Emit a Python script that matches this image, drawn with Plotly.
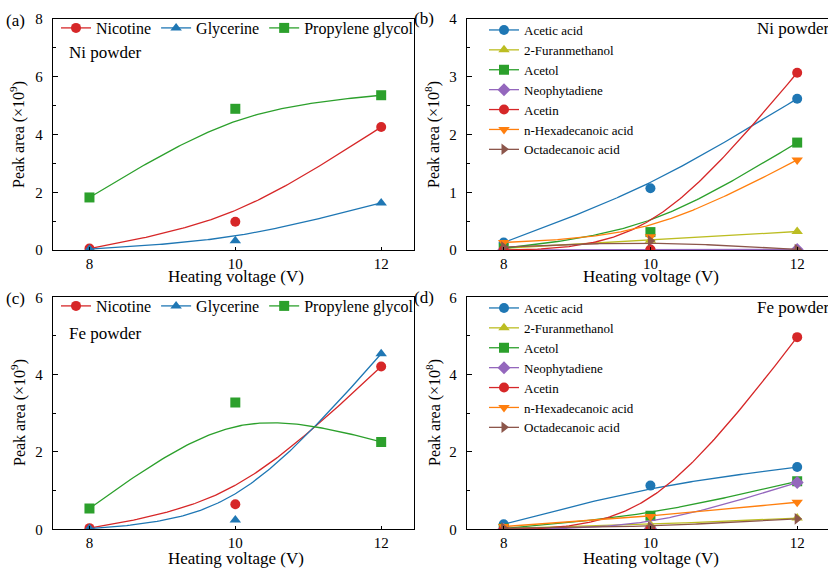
import numpy as np
import plotly.graph_objects as go

voltage = [8, 10, 12]

# (a) Ni powder, x10^9
ni_main = {
    "Nicotine": [0.05, 0.98, 4.26],
    "Glycerine": [0.03, 0.32, 1.63],
    "Propylene glycol": [1.82, 4.89, 5.36],
}
# (c) Fe powder, x10^9
fe_main = {
    "Nicotine": [0.03, 0.65, 4.21],
    "Glycerine": [0.02, 0.24, 4.54],
    "Propylene glycol": [0.54, 3.28, 2.26],
}
# (b) Ni powder, x10^8
ni_minor = {
    "Acetic acid": [0.13, 1.07, 2.62],
    "2-Furanmethanol": [0.03, 0.17, 0.32],
    "Acetol": [0.03, 0.31, 1.86],
    "Neophytadiene": [0.0, 0.0, 0.01],
    "Acetin": [0.0, 0.01, 3.07],
    "n-Hexadecanoic acid": [0.13, 0.23, 1.56],
    "Octadecanoic acid": [0.05, 0.16, 0.01],
}
# (d) Fe powder, x10^8
fe_minor = {
    "Acetic acid": [0.13, 1.13, 1.61],
    "2-Furanmethanol": [0.02, 0.12, 0.29],
    "Acetol": [0.02, 0.35, 1.24],
    "Neophytadiene": [0.0, 0.02, 1.21],
    "Acetin": [0.0, 0.0, 4.97],
    "n-Hexadecanoic acid": [0.07, 0.33, 0.70],
    "Octadecanoic acid": [0.03, 0.06, 0.27],
}

main_style = {
    "Nicotine": ("#d62728", "circle"),
    "Glycerine": ("#1f77b4", "triangle-up"),
    "Propylene glycol": ("#2ca02c", "square"),
}
minor_style = {
    "Acetic acid": ("#1f77b4", "circle"),
    "2-Furanmethanol": ("#bcbd22", "triangle-up"),
    "Acetol": ("#2ca02c", "square"),
    "Neophytadiene": ("#9467bd", "diamond"),
    "Acetin": ("#d62728", "circle"),
    "n-Hexadecanoic acid": ("#ff7f0e", "triangle-down"),
    "Octadecanoic acid": ("#8c564b", "triangle-right"),
}

W, H = 828, 569
FONT = "Liberation Serif"


def px(x):
    return x / W


def py(y):
    return 1 - y / H


def smooth(xs, ys, w=2.0, n=120):
    t = np.linspace(0, 1, n)
    b0 = (1 - t) ** 2
    b1 = 2 * w * t * (1 - t)
    b2 = t ** 2
    d = b0 + b1 + b2
    x = (b0 * xs[0] + b1 * xs[1] + b2 * xs[2]) / d
    y = (b0 * ys[0] + b1 * ys[1] + b2 * ys[2]) / d
    return x, y


fig = go.Figure()

panels = [
    ("x", "y", ni_main, main_style, "legend"),
    ("x2", "y2", ni_minor, minor_style, "legend2"),
    ("x3", "y3", fe_main, main_style, "legend3"),
    ("x4", "y4", fe_minor, minor_style, "legend4"),
]

for xa, ya, data, style, leg in panels:
    for name, vals in data.items():
        color, sym = style[name]
        cx, cy = smooth(voltage, vals)
        fig.add_trace(go.Scatter(
            x=cx, y=cy, mode="lines", line=dict(color=color, width=1.3),
            xaxis=xa, yaxis=ya, showlegend=False, hoverinfo="skip"))
        fig.add_trace(go.Scatter(
            x=voltage, y=vals, mode="markers", name=name,
            marker=dict(color=color, symbol=sym, size=10),
            xaxis=xa, yaxis=ya, showlegend=False))
        # legend entry with line + marker
        fig.add_trace(go.Scatter(
            x=[None], y=[None], mode="lines+markers", name=name,
            line=dict(color=color, width=1.3),
            marker=dict(color=color, symbol=sym, size=10),
            xaxis=xa, yaxis=ya, legend=leg, showlegend=True))

tickfont = dict(family=FONT, size=15, color="black")


def xaxis_def(dom, rng, anchor):
    return dict(domain=dom, range=rng, tickvals=voltage, anchor=anchor, mirror=True,
                showline=True, linecolor="black", linewidth=1.3,
                ticks="inside", tickcolor="black", ticklen=3, tickwidth=1,
                showgrid=False, zeroline=False, tickfont=tickfont,
                ticklabelstandoff=0)


def yaxis_def(dom, rng, dtick, anchor, mirror):
    return dict(domain=dom, range=rng, dtick=dtick, anchor=anchor, mirror=mirror,
                showline=True, linecolor="black", linewidth=1.3,
                ticks="inside", tickcolor="black", ticklen=5, tickwidth=1,
                showgrid=False, zeroline=False, tickfont=tickfont,
                ticklabelstandoff=6,
                minor=dict(dtick=dtick / 2, ticks="inside", ticklen=3, tickcolor="black"))


top_dom = [py(250), py(19)]
bot_dom = [py(529.3), py(297.3)]
left_dom = [px(53), px(414)]
right_dom = [px(467), 1.0]

fig.update_layout(
    width=W, height=H,
    margin=dict(l=0, r=0, t=0, b=0, autoexpand=False),
    paper_bgcolor="white", plot_bgcolor="white",
    font=dict(family=FONT, color="black"),
    xaxis=xaxis_def(left_dom, [7.5, 12.45], "y"),
    yaxis=yaxis_def(top_dom, [0, 8], 2, "x", True),
    xaxis2=xaxis_def(right_dom, [7.5, 12.42], "y2"),
    yaxis2=yaxis_def(top_dom, [0, 4], 1, "x2", False),
    xaxis3=xaxis_def(left_dom, [7.5, 12.45], "y3"),
    yaxis3=yaxis_def(bot_dom, [0, 6], 2, "x3", True),
    xaxis4=xaxis_def(right_dom, [7.5, 12.42], "y4"),
    yaxis4=yaxis_def(bot_dom, [0, 6], 2, "x4", False),
)

hleg = dict(orientation="h", xanchor="left", yanchor="middle", bgcolor="rgba(0,0,0,0)",
            font=dict(family=FONT, size=16, color="black"), itemwidth=30, tracegroupgap=0)
vleg = dict(orientation="v", xanchor="left", yanchor="top", bgcolor="rgba(0,0,0,0)",
            font=dict(family=FONT, size=13, color="black"), itemwidth=30, tracegroupgap=0)

fig.update_layout(
    legend=dict(x=px(56), y=py(28), **hleg),
    legend3=dict(x=px(56), y=py(306), **hleg),
    legend2=dict(x=px(484), y=py(15), **vleg),
    legend4=dict(x=px(484), y=py(293), **vleg),
)

ann_font = dict(family=FONT, size=17, color="black")
title_font = dict(family=FONT, size=17, color="black")
ytitle_font = dict(family=FONT, size=16, color="black")


def ann(text, x, y, xanchor="left", font=ann_font, angle=0):
    fig.add_annotation(text=text, xref="paper", yref="paper", x=px(x), y=py(y),
                       xanchor=xanchor, yanchor="middle", showarrow=False,
                       font=font, textangle=angle)


ann("(a)", 4, 21)
ann("(b)", 412, 19)
ann("(c)", 4, 298)
ann("(d)", 412, 297)
ann("Ni powder", 67, 52)
ann("Fe powder", 67, 333)
ann("Ni powder", 832, 29, xanchor="right")
ann("Fe powder", 832, 307, xanchor="right")

# axis titles
ann("Heating voltage (V)", 236, 277, xanchor="center", font=title_font)
ann("Heating voltage (V)", 651, 277, xanchor="center", font=title_font)
ann("Heating voltage (V)", 236, 558, xanchor="center", font=title_font)
ann("Heating voltage (V)", 651, 558, xanchor="center", font=title_font)
ann("Peak area (×10<sup>9</sup>)", 18, 135, xanchor="center", font=ytitle_font, angle=-90)
ann("Peak area (×10<sup>8</sup>)", 433, 135, xanchor="center", font=ytitle_font, angle=-90)
ann("Peak area (×10<sup>9</sup>)", 18, 413, xanchor="center", font=ytitle_font, angle=-90)
ann("Peak area (×10<sup>8</sup>)", 433, 413, xanchor="center", font=ytitle_font, angle=-90)

fig.write_html("out.html", config={"displayModeBar": False},
               post_script="document.body.style.margin='0px';document.body.style.overflow='hidden';")
